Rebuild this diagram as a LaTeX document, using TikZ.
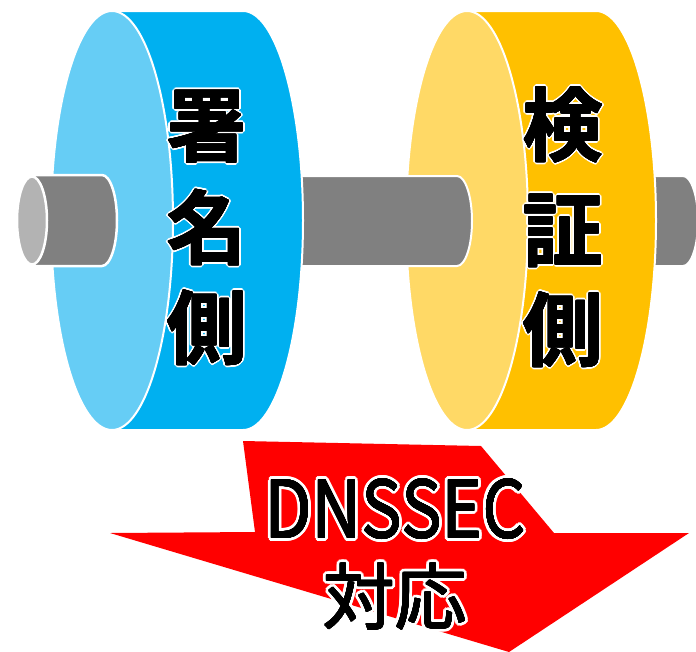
\documentclass[tikz,border=0pt]{standalone}
\usepackage{fontspec}
\newfontfamily\jpsans{Noto Sans CJK JP}[BoldFont=* Bold]
\definecolor{signface}{HTML}{66CDF5}
\definecolor{signbody}{HTML}{00B0F0}
\definecolor{verface}{HTML}{FFD966}
\definecolor{verbody}{HTML}{FFC000}
\definecolor{shaft}{HTML}{808080}
\definecolor{shaftcap}{HTML}{B3B3B3}
\definecolor{arrowred}{HTML}{FF0000}
% a ring of zero-width copies of #3 in colour #2 at distance #1
\newcommand\ringcopies[3]{%
  \foreach \a in {0,22.5,...,337.5}{%
    \pgfmathsetlengthmacro\hx{#1*cos(\a)}%
    \pgfmathsetlengthmacro\hy{#1*sin(\a)}%
    \rlap{\hspace*{\hx}\raisebox{\hy}{\color{#2}#3}}}}
% black text with a white halo; #2 thickens the black strokes
\newcommand\halo[3]{\leavevmode
  \ringcopies{#1}{white}{#3}%
  \ringcopies{#2}{black}{#3}%
  {\color{black}#3}}
\begin{document}
\begin{tikzpicture}[x=1pt,y=-1pt,
  rim/.style={draw=white,line width=2pt},
  vlabel/.style={font=\jpsans\bfseries\fontsize{80}{80}\selectfont,inner sep=0pt,anchor=base},
  alabel/.style={font=\jpsans\fontsize{79}{79}\selectfont,inner sep=0pt,anchor=base},
  jlabel/.style={font=\jpsans\fontsize{72}{72}\selectfont,inner sep=0pt,anchor=base}]
\useasboundingbox (0,0) rectangle (696,651);

% right axle stub (behind the verification wheel)
\filldraw[fill=shaft,rim] (600,176) -- (683,176)
  arc[start angle=90,end angle=-90,x radius=15pt,y radius=45pt] -- (600,266) -- cycle;

% verification wheel
\filldraw[fill=verbody,rim] (467,11) -- (596,11)
  arc[start angle=90,end angle=-90,x radius=60pt,y radius=209.5pt] -- (467,430) -- cycle;
\filldraw[fill=verface,rim] (467,220.5) ellipse[x radius=61pt,y radius=209.5pt];

% middle axle
\filldraw[fill=shaft,rim] (290,176) -- (457,176)
  arc[start angle=90,end angle=-90,x radius=15pt,y radius=45pt] -- (290,266) -- cycle;

% signing wheel
\filldraw[fill=signbody,rim] (112,11) -- (243,11)
  arc[start angle=90,end angle=-90,x radius=60pt,y radius=209.5pt] -- (112,430) -- cycle;
\filldraw[fill=signface,rim] (112,220.5) ellipse[x radius=61pt,y radius=209.5pt];

% left axle stub with its end cap
\filldraw[fill=shaft,rim,line width=2.5pt] (32,175) -- (102,175)
  arc[start angle=90,end angle=-90,x radius=15pt,y radius=45.5pt] -- (32,266) -- cycle;
\filldraw[fill=shaftcap,rim,line width=2.5pt] (32,220.5) ellipse[x radius=15pt,y radius=44pt];

% wheel labels
\node[vlabel] (s1) at (207,156) {\halo{2.2pt}{0.6pt}{署}};
\node[vlabel] (s2) at (207,258) {\halo{2.2pt}{0.6pt}{名}};
\node[vlabel] (s3) at (207,358) {\halo{2.2pt}{0.6pt}{側}};
\node[vlabel] (v1) at (563,155) {\halo{2.2pt}{0.6pt}{検}};
\node[vlabel] (v2) at (563,260) {\halo{2.2pt}{0.6pt}{証}};
\node[vlabel] (v3) at (563,360) {\halo{2.2pt}{0.6pt}{側}};

% down arrow
\fill[arrowred] (243,441) -- (481,446) -- (554,533) -- (689,533)
  -- (509,652) -- (110,533) -- (255,532) -- cycle;

\node[alabel] (dnssec) at (395.5,538) {\scalebox{0.865}[1]{\halo{3.8pt}{0.3pt}{DNSSEC}}};
\node[jlabel] (taiou) at (395,624) {\halo{3.5pt}{0.3pt}{対応}};
\end{tikzpicture}
\end{document}
